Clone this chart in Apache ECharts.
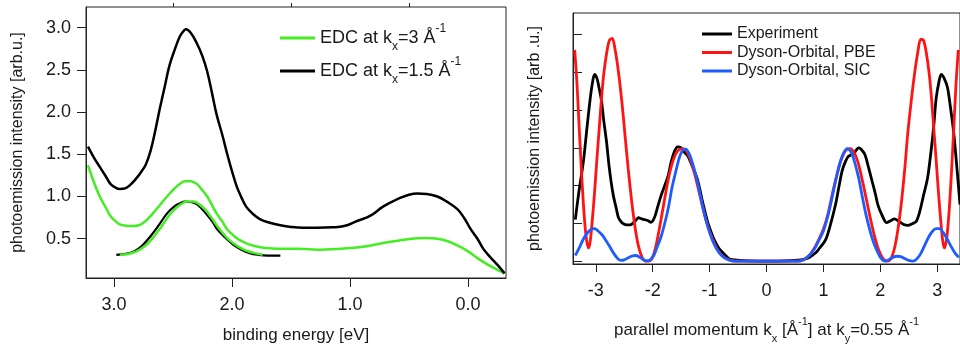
<!DOCTYPE html>
<html>
<head>
<meta charset="utf-8">
<script src="https://cdn.jsdelivr.net/npm/echarts@6/dist/echarts.min.js"></script>
<style>
  html, body { margin: 0; padding: 0; background: #fff; }
  #main { width: 960px; height: 349px; }
</style>
</head>
<body>
<div id="main"></div>
<script>
// left panel: EDC curves, [binding energy eV, intensity]
const edc3 = [[3.22,1.37],[3.17,1.17],[3.12,1.00],[3.07,0.87],[3.03,0.77],[2.98,0.70],[2.95,0.67],[2.90,0.655],[2.84,0.65],[2.79,0.66],[2.75,0.69],[2.71,0.74],[2.67,0.80],[2.61,0.90],[2.55,1.00],[2.49,1.09],[2.44,1.15],[2.40,1.18],[2.35,1.18],[2.30,1.15],[2.26,1.09],[2.21,1.00],[2.17,0.90],[2.13,0.80],[2.08,0.70],[2.04,0.61],[1.98,0.53],[1.93,0.48],[1.85,0.43],[1.76,0.40],[1.66,0.385],[1.57,0.38],[1.45,0.38],[1.35,0.375],[1.25,0.37],[1.15,0.375],[1.00,0.39],[0.86,0.41],[0.72,0.45],[0.58,0.48],[0.43,0.505],[0.35,0.51],[0.26,0.50],[0.17,0.47],[0.09,0.42],[0.00,0.35],[-0.08,0.27],[-0.16,0.20],[-0.24,0.14],[-0.31,0.09]];
const edc15 = [[3.22,1.59],[3.17,1.46],[3.12,1.35],[3.07,1.24],[3.03,1.15],[2.98,1.10],[2.95,1.09],[2.90,1.10],[2.86,1.14],[2.82,1.20],[2.78,1.27],[2.73,1.38],[2.69,1.54],[2.65,1.78],[2.61,2.05],[2.57,2.30],[2.53,2.55],[2.48,2.76],[2.44,2.90],[2.41,2.96],[2.39,2.98],[2.35,2.94],[2.30,2.82],[2.25,2.66],[2.21,2.48],[2.17,2.23],[2.13,1.97],[2.08,1.72],[2.04,1.50],[2.00,1.30],[1.96,1.12],[1.92,0.99],[1.88,0.88],[1.82,0.79],[1.76,0.73],[1.68,0.69],[1.59,0.66],[1.50,0.64],[1.40,0.63],[1.28,0.63],[1.15,0.635],[1.05,0.65],[0.94,0.71],[0.83,0.77],[0.72,0.88],[0.64,0.94],[0.58,0.98],[0.50,1.02],[0.43,1.035],[0.35,1.03],[0.26,1.00],[0.18,0.94],[0.09,0.85],[0.03,0.74],[-0.02,0.62],[-0.08,0.50],[-0.13,0.38],[-0.19,0.28],[-0.25,0.19],[-0.31,0.09]];
const fit15 = [[2.98,0.31],[2.90,0.32],[2.83,0.35],[2.76,0.42],[2.69,0.53],[2.62,0.66],[2.55,0.80],[2.49,0.88],[2.44,0.92],[2.40,0.94],[2.35,0.935],[2.30,0.91],[2.26,0.86],[2.21,0.78],[2.16,0.69],[2.13,0.62],[2.07,0.53],[1.99,0.43],[1.92,0.37],[1.85,0.33],[1.78,0.31],[1.70,0.30],[1.59,0.30]];
const fit3 = [[2.95,0.31],[2.88,0.32],[2.81,0.35],[2.74,0.41],[2.67,0.51],[2.60,0.64],[2.53,0.78],[2.47,0.87],[2.42,0.92],[2.38,0.94],[2.33,0.94],[2.28,0.91],[2.23,0.85],[2.18,0.76],[2.13,0.66],[2.08,0.57],[2.02,0.48],[1.95,0.41],[1.88,0.36],[1.81,0.33],[1.74,0.31]];

// right panel: momentum distribution, [kx, intensity]
const experiment = [[-3.36,1.10],[-3.30,1.8],[-3.25,2.3],[-3.21,2.73],[-3.15,3.6],[-3.09,4.4],[-3.05,4.8],[-3.02,4.95],[-2.98,4.85],[-2.95,4.65],[-2.90,4.25],[-2.86,3.73],[-2.81,3.15],[-2.77,2.57],[-2.73,2.1],[-2.69,1.73],[-2.64,1.4],[-2.60,1.15],[-2.54,1.02],[-2.48,0.97],[-2.42,0.96],[-2.37,0.98],[-2.31,1.06],[-2.25,1.15],[-2.19,1.12],[-2.14,1.10],[-2.08,1.07],[-2.03,1.03],[-1.97,1.15],[-1.91,1.45],[-1.85,1.75],[-1.79,2.0],[-1.73,2.25],[-1.68,2.6],[-1.62,2.9],[-1.56,3.03],[-1.50,3.0],[-1.44,2.88],[-1.38,2.78],[-1.30,2.50],[-1.21,2.15],[-1.12,1.55],[-1.04,1.07],[-0.98,0.80],[-0.92,0.57],[-0.84,0.35],[-0.75,0.20],[-0.64,0.05],[-0.52,0.03],[-0.3,0.01],[0,0],[0.3,0.01],[0.55,0.03],[0.65,0.05],[0.75,0.10],[0.87,0.23],[0.95,0.38],[1.04,0.57],[1.12,0.95],[1.21,1.48],[1.27,1.95],[1.33,2.4],[1.39,2.65],[1.44,2.78],[1.53,2.85],[1.58,2.95],[1.62,3.0],[1.67,2.95],[1.73,2.82],[1.79,2.50],[1.85,2.15],[1.91,1.80],[1.96,1.48],[2.03,1.22],[2.11,1.02],[2.18,1.07],[2.25,1.12],[2.32,1.06],[2.38,1.00],[2.43,0.96],[2.48,0.95],[2.57,1.00],[2.63,1.05],[2.69,1.30],[2.76,1.75],[2.83,2.2],[2.89,2.9],[2.94,3.6],[2.98,4.3],[3.03,4.75],[3.07,4.95],[3.12,4.85],[3.18,4.6],[3.23,4.1],[3.29,3.4],[3.35,2.4],[3.40,1.5]];
const dysonPBE = [[-3.37,5.6],[-3.33,4.7],[-3.29,3.5],[-3.25,2.35],[-3.21,1.35],[-3.17,0.65],[-3.13,0.35],[-3.10,0.5],[-3.06,1.1],[-3.02,1.85],[-2.98,2.7],[-2.94,3.5],[-2.90,4.3],[-2.86,4.95],[-2.81,5.5],[-2.76,5.85],[-2.71,5.9],[-2.66,5.6],[-2.60,5.0],[-2.54,4.2],[-2.49,3.4],[-2.43,2.45],[-2.37,1.6],[-2.31,0.9],[-2.25,0.4],[-2.18,0.08],[-2.12,0.0],[-2.07,0.0],[-2.01,0.08],[-1.95,0.35],[-1.89,0.8],[-1.83,1.3],[-1.76,1.9],[-1.70,2.35],[-1.63,2.72],[-1.56,2.92],[-1.48,2.98],[-1.42,2.95],[-1.34,2.7],[-1.26,2.3],[-1.18,1.8],[-1.10,1.3],[-1.02,0.88],[-0.94,0.55],[-0.86,0.30],[-0.77,0.13],[-0.67,0.04],[-0.55,0.0],[0.55,0.0],[0.65,0.04],[0.75,0.15],[0.84,0.34],[0.92,0.58],[1.00,0.85],[1.08,1.25],[1.16,1.8],[1.24,2.3],[1.32,2.72],[1.40,2.95],[1.47,2.98],[1.55,2.85],[1.62,2.55],[1.69,2.1],[1.76,1.6],[1.83,1.1],[1.90,0.65],[1.97,0.30],[2.04,0.08],[2.11,0.0],[2.18,0.05],[2.25,0.35],[2.31,0.85],[2.37,1.55],[2.43,2.45],[2.48,3.35],[2.54,4.2],[2.60,4.95],[2.66,5.55],[2.71,5.88],[2.76,5.85],[2.81,5.5],[2.86,4.95],[2.90,4.3],[2.94,3.5],[2.98,2.7],[3.02,1.85],[3.06,1.1],[3.10,0.5],[3.13,0.35],[3.17,0.65],[3.21,1.35],[3.25,2.35],[3.29,3.5],[3.33,4.7],[3.37,5.6]];
const dysonSIC = [[-3.36,0.15],[-3.29,0.35],[-3.22,0.58],[-3.14,0.76],[-3.07,0.85],[-3.02,0.86],[-2.96,0.80],[-2.89,0.70],[-2.83,0.57],[-2.76,0.40],[-2.69,0.22],[-2.62,0.08],[-2.56,0.02],[-2.49,0.04],[-2.42,0.10],[-2.35,0.14],[-2.30,0.15],[-2.24,0.12],[-2.18,0.06],[-2.11,0.01],[-2.05,0.03],[-1.98,0.15],[-1.92,0.38],[-1.85,0.66],[-1.78,1.05],[-1.72,1.45],[-1.66,1.95],[-1.59,2.40],[-1.53,2.75],[-1.47,2.95],[-1.42,2.97],[-1.36,2.85],[-1.30,2.60],[-1.22,2.15],[-1.15,1.65],[-1.07,1.12],[-0.99,0.72],[-0.92,0.45],[-0.84,0.24],[-0.75,0.10],[-0.66,0.03],[-0.55,0.0],[0.55,0.0],[0.65,0.04],[0.75,0.15],[0.84,0.32],[0.92,0.55],[1.00,0.80],[1.07,1.15],[1.14,1.6],[1.21,2.1],[1.28,2.55],[1.35,2.85],[1.42,2.98],[1.49,2.88],[1.55,2.62],[1.62,2.2],[1.68,1.73],[1.75,1.22],[1.82,0.8],[1.88,0.5],[1.95,0.25],[2.01,0.08],[2.08,0.0],[2.15,0.04],[2.22,0.10],[2.29,0.13],[2.36,0.12],[2.43,0.07],[2.50,0.02],[2.57,0.0],[2.64,0.06],[2.71,0.2],[2.78,0.42],[2.85,0.64],[2.92,0.80],[2.98,0.86],[3.04,0.86],[3.10,0.77],[3.17,0.6],[3.24,0.4],[3.31,0.22],[3.38,0.1]];

// ticks
const energyLabels = [3, 2, 1, 0];
const energyMinor = [2.5, 1.5, 0.5];
const edcYTicks = [0.5, 1.0, 1.5, 2.0, 2.5, 3.0];
const kLabels = [-3, -2, -1, 0, 1, 2, 3];
const mdcYTicks = [0, 1, 2, 3, 4, 5, 6];

const FONT = 'Liberation Sans, Arial, sans-serif';
const TXT = '#1a1a1a';
const AX = '#222';

const subRich = {
  a: { fontSize: 18, fontFamily: FONT, color: TXT, lineHeight: 30 },
  b: { fontSize: 12, fontFamily: FONT, color: TXT, verticalAlign: 'bottom', lineHeight: 22 },
  c: { fontSize: 12, fontFamily: FONT, color: TXT, verticalAlign: 'top', lineHeight: 14 }
};

let option = {
  animation: false,
  backgroundColor: '#fff',
  grid: [
    { left: 86, top: 7, right: 454, bottom: 66, show: true, borderColor: AX, borderWidth: 1 },
    { left: 573, top: 13, right: -6, bottom: 70, show: true, borderColor: AX, borderWidth: 1 }
  ],
  legend: [
    {
      data: ['k3', 'k15'],
      orient: 'vertical',
      left: 275, top: 18,
      itemWidth: 35, itemHeight: 3, itemGap: 3,
      icon: 'rect',
      textStyle: { fontSize: 18, fontFamily: FONT, color: TXT, rich: subRich },
      formatter: function (name) {
        return name === 'k3'
          ? '{a|EDC at k}{b|x}{a|=3 Å}{c|-1}'
          : '{a|EDC at k}{b|x}{a|=1.5 Å}{c|-1}';
      }
    },
    {
      data: ['Experiment', 'Dyson-Orbital, PBE', 'Dyson-Orbital, SIC'],
      orient: 'vertical',
      left: 697, top: 20,
      itemWidth: 30, itemHeight: 3, itemGap: 0.5,
      icon: 'rect',
      textStyle: { fontSize: 16, fontFamily: FONT, color: TXT, lineHeight: 18 }
    }
  ],
  xAxis: [
    {
      gridIndex: 0, type: 'value', inverse: true, min: -0.322, max: 3.237,
      name: 'binding energy [eV]', nameLocation: 'middle', nameGap: 49,
      nameTextStyle: { fontSize: 17, fontFamily: FONT, color: TXT },
      axisLine: { onZero: false, lineStyle: { color: AX } },
      axisTick: { customValues: energyLabels, length: 9, lineStyle: { color: AX } },
      axisLabel: { customValues: energyLabels, margin: 18, fontSize: 18, fontFamily: FONT, color: TXT,
        formatter: v => v.toFixed(1) },
      splitLine: { show: false }
    },
    {
      gridIndex: 0, type: 'value', inverse: true, min: -0.322, max: 3.237,
      axisLine: { show: false, onZero: false },
      axisTick: { customValues: energyMinor, length: 4, lineStyle: { color: AX } },
      axisLabel: { show: false },
      splitLine: { show: false }
    },
    {
      gridIndex: 1, type: 'value', min: -3.4, max: 3.4,
      name: 'parallel momentum k{s|x} [Å{p|-1}] at k{s|y}=0.55 Å{p|-1}',
      nameLocation: 'middle', nameGap: 52,
      nameTextStyle: {
        fontSize: 17, fontFamily: FONT, color: TXT, lineHeight: 28,
        rich: {
          s: { fontSize: 11, fontFamily: FONT, color: TXT, verticalAlign: 'bottom', lineHeight: 20 },
          p: { fontSize: 11, fontFamily: FONT, color: TXT, verticalAlign: 'top', lineHeight: 13 }
        }
      },
      axisLine: { onZero: false, lineStyle: { color: AX } },
      axisTick: { customValues: kLabels, length: 8, lineStyle: { color: AX } },
      axisLabel: { customValues: kLabels, margin: 18, fontSize: 18, fontFamily: FONT, color: TXT },
      splitLine: { show: false }
    }
  ],
  yAxis: [
    {
      gridIndex: 0, type: 'value', min: 0.035, max: 3.244,
      name: 'photoemission intensity [arb.u.]', nameLocation: 'middle', nameGap: 60,
      nameTextStyle: { fontSize: 16, fontFamily: FONT, color: TXT },
      axisLine: { show: true, onZero: false, lineStyle: { color: AX } },
      axisTick: { show: true, customValues: edcYTicks, length: 9, lineStyle: { color: AX } },
      axisLabel: { customValues: edcYTicks, margin: 15, fontSize: 18, fontFamily: FONT, color: TXT,
        formatter: v => v.toFixed(1) },
      splitLine: { show: false }
    },
    {
      gridIndex: 1, type: 'value', min: -0.075, max: 6.575,
      name: 'photoemission intensity [arb .u.]', nameLocation: 'middle', nameGap: 30,
      nameTextStyle: { fontSize: 16, fontFamily: FONT, color: TXT },
      axisLine: { show: true, onZero: false, lineStyle: { color: AX } },
      axisTick: { show: true, inside: true, customValues: mdcYTicks, length: 9, lineStyle: { color: AX } },
      axisLabel: { show: false },
      splitLine: { show: false }
    }
  ],
  series: [
    { name: 'fit15', type: 'line', xAxisIndex: 0, yAxisIndex: 0, data: fit15, smooth: 0.4,
      showSymbol: false, symbol: 'none', color: '#000', lineStyle: { color: '#000', width: 2.2 } },
    { name: 'fit3', type: 'line', xAxisIndex: 0, yAxisIndex: 0, data: fit3, smooth: 0.4,
      showSymbol: false, symbol: 'none', color: '#44ee22', lineStyle: { color: '#44ee22', width: 2.5 } },
    { name: 'k3', type: 'line', xAxisIndex: 0, yAxisIndex: 0, data: edc3, smooth: 0.4,
      showSymbol: false, symbol: 'none', color: '#44ee22', lineStyle: { color: '#44ee22', width: 2.5 } },
    { name: 'k15', type: 'line', xAxisIndex: 0, yAxisIndex: 0, data: edc15, smooth: 0.4,
      showSymbol: false, symbol: 'none', color: '#000', lineStyle: { color: '#000', width: 2.5 } },
    { name: 'Experiment', type: 'line', xAxisIndex: 2, yAxisIndex: 1, data: experiment, smooth: 0.3,
      showSymbol: false, symbol: 'none', color: '#000', lineStyle: { color: '#000', width: 2.8 } },
    { name: 'Dyson-Orbital, PBE', type: 'line', xAxisIndex: 2, yAxisIndex: 1, data: dysonPBE, smooth: 0.3,
      showSymbol: false, symbol: 'none', color: '#ff1414', lineStyle: { color: '#ff1414', width: 2.8 } },
    { name: 'Dyson-Orbital, SIC', type: 'line', xAxisIndex: 2, yAxisIndex: 1, data: dysonSIC, smooth: 0.3,
      showSymbol: false, symbol: 'none', color: '#1f5cff', lineStyle: { color: '#1f5cff', width: 2.8 } }
  ]
};

let myChart = echarts.init(document.getElementById('main'), null, { renderer: 'canvas' });
myChart.setOption(option);
</script>
</body>
</html>
